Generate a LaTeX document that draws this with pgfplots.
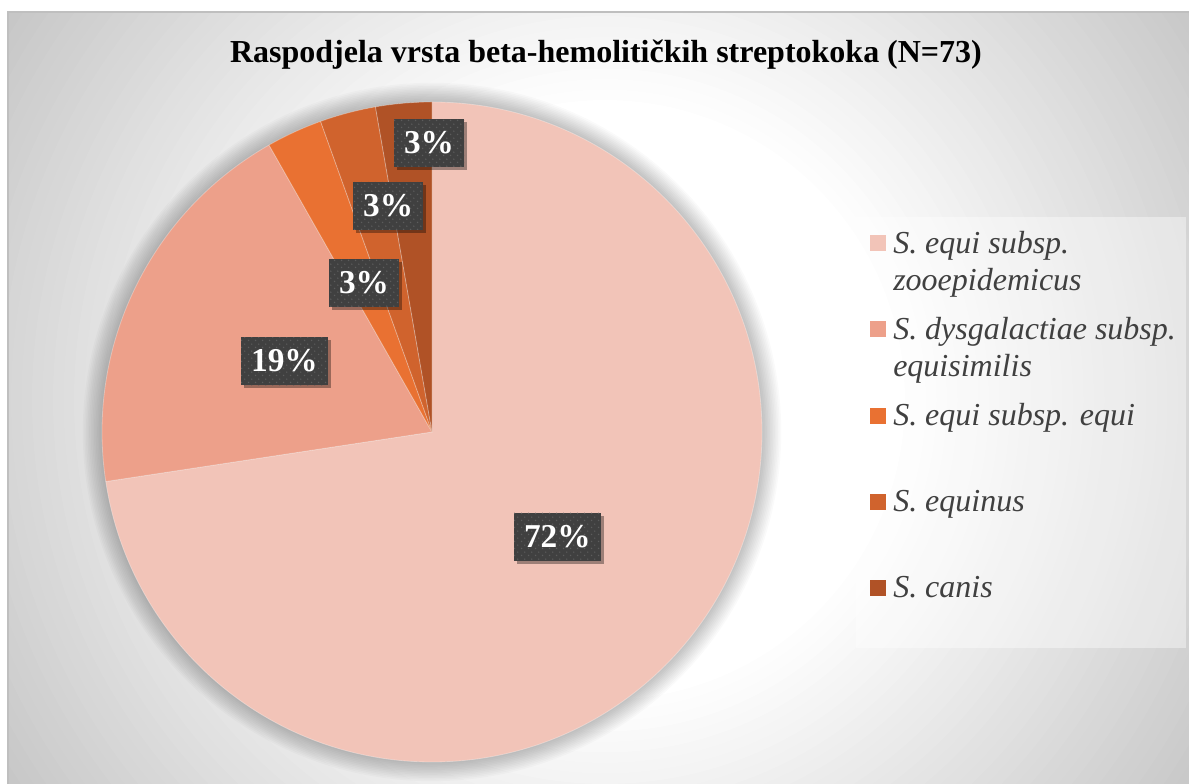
\documentclass[border=0pt]{standalone}
\usepackage{pgfplots}
\pgfplotsset{compat=1.18}
\usepackage{pgfplotstable}
\usepackage{fontspec}
\setmainfont{Liberation Serif}
\usetikzlibrary{shadows,patterns.meta}

\definecolor{c1}{RGB}{242,196,184}
\definecolor{c2}{RGB}{237,160,138}
\definecolor{c3}{RGB}{233,113,50}
\definecolor{c4}{RGB}{208,99,45}
\definecolor{c5}{RGB}{176,82,38}
\definecolor{lblgray}{RGB}{64,64,64}
\definecolor{lbldot}{RGB}{92,92,92}
\definecolor{txtgray}{RGB}{64,64,64}
\definecolor{bggray}{RGB}{198,198,198}

\tikzdeclarepattern{name=lbldots, type=uncolored,
  bottom left={(0pt,0pt)}, top right={(5pt,5pt)}, tile size={(5pt,5pt)},
  code={\fill (1.25pt,1.25pt) circle (0.6pt); \fill (3.75pt,3.75pt) circle (0.6pt);}}

% counts (N=73), shown percentage, label position (pie radius = 1)
\pgfplotstableread{
n  pct col lx     ly
53 72  c1   0.380 -0.317
14 19  c2  -0.447  0.215
2  3   c3  -0.206  0.452
2  3   c4  -0.133  0.685
2  3   c5  -0.009  0.876
}\piedata

\begin{document}
\begin{tikzpicture}[x=0.75pt,y=0.75pt,
  lbl/.style={fill=lblgray, text=white, font=\fontsize{25}{30}\selectfont\bfseries,
    inner xsep=7.5pt, inner ysep=0pt, minimum height=36pt,
    drop shadow={shadow xshift=2.5pt, shadow yshift=-2.5pt, opacity=0.35, fill=black},
    postaction={pattern=lbldots, pattern color=lbldot}}]
\path[use as bounding box] (0,0) rectangle (1189,784);
\clip (0,0) rectangle (1189,784);
\fill[white] (0,0) rectangle (1189,784);
% chart area background: radial gradient, white centre, grey corners
\begin{scope}
\clip (8,0) rectangle (1189,772);
\fill[bggray] (8,0) rectangle (1189,772);
\foreach \k in {0,...,40} {
  \pgfmathsetmacro\rr{720-10.5*\k}
  \pgfmathsetmacro\pp{2.5*\k}
  \fill[white!\pp!bggray] (605,384) circle (\rr);
}
\end{scope}
\draw[black!25, line width=1pt] (8,-5) -- (8,772) -- (1195,772);
% title
\node[anchor=base, font=\fontsize{24}{28}\selectfont\bfseries] at (606,721)
  {Raspodjela vrsta beta-hemolitičkih streptokoka (N=73)};
% legend background
\fill[white, opacity=0.4] (856,136) rectangle (1186,567);
% soft pie shadow
\foreach \k in {1,...,12} {\fill[black, opacity=0.02] (432,352) circle ({330+1.6*\k});}

\begin{axis}[
  at={(76.5pt,16.5pt)}, anchor=south west,
  scale only axis, width=495pt, height=495pt,
  xmin=-1, xmax=1, ymin=-1, ymax=1,
  hide axis, clip=false,
  legend image code/.code={\fill[#1,draw=none] (0pt,1.5pt) rectangle (12pt,13.5pt);},
  legend style={at={(1.16364,0.81061)}, anchor=north west, draw=none, fill=none,
    inner sep=0pt, row sep=9.15pt, column sep=5.25pt,
    font=\fontsize{24}{27.75}\selectfont\itshape, text=txtgray,
    nodes={inner sep=0pt, text depth=}, cells={anchor=base west}},
]
\pgfplotstablegetrowsof{\piedata}
\pgfmathtruncatemacro\last{\pgfplotsretval-1}
\def\tot{0}
\pgfplotsforeachungrouped \i in {0,...,\last}{%
  \pgfplotstablegetelem{\i}{n}\of\piedata
  \pgfmathsetmacro\tot{\tot+\pgfplotsretval}%
}
\def\cum{0}
\pgfplotsforeachungrouped \i in {0,...,\last}{%
  \pgfplotstablegetelem{\i}{n}\of\piedata \let\n\pgfplotsretval
  \pgfplotstablegetelem{\i}{col}\of\piedata \let\c\pgfplotsretval
  \pgfmathsetmacro\a{90-360*(\cum/\tot)}%
  \pgfmathsetmacro\cum{\cum+\n}%
  \pgfmathsetmacro\b{90-360*(\cum/\tot)}%
  \edef\temp{\noexpand\fill[\c, draw=white, draw opacity=0.3, line width=0.6pt]
    (axis cs:0,0) -- (axis cs:{cos(\a)},{sin(\a)})
    arc[start angle=\a, end angle=\b, radius=247.5pt] -- cycle;}%
  \temp
}
\pgfplotsforeachungrouped \i in {0,...,\last}{%
  \pgfplotstablegetelem{\i}{pct}\of\piedata \let\p\pgfplotsretval
  \pgfplotstablegetelem{\i}{lx}\of\piedata \let\lx\pgfplotsretval
  \pgfplotstablegetelem{\i}{ly}\of\piedata \let\ly\pgfplotsretval
  \edef\temp{\noexpand\node[lbl] at (axis cs:\lx,\ly) {\p\noexpand\%};}%
  \temp
}
\addlegendimage{fill=c1}
\addlegendentry{\begin{tabular}[t]{@{}l@{}}S. equi subsp.\\zooepidemicus\end{tabular}}
\addlegendimage{fill=c2}
\addlegendentry{\begin{tabular}[t]{@{}l@{}}S. dysgalactiae subsp.\\equisimilis\end{tabular}}
\addlegendimage{fill=c3}
\addlegendentry{\begin{tabular}[t]{@{}l@{}}S. equi subsp. equi\\\mbox{}\end{tabular}}
\addlegendimage{fill=c4}
\addlegendentry{\begin{tabular}[t]{@{}l@{}}S. equinus\\\mbox{}\end{tabular}}
\addlegendimage{fill=c5}
\addlegendentry{\begin{tabular}[t]{@{}l@{}}S. canis\\\mbox{}\end{tabular}}
\end{axis}
\end{tikzpicture}
\end{document}
